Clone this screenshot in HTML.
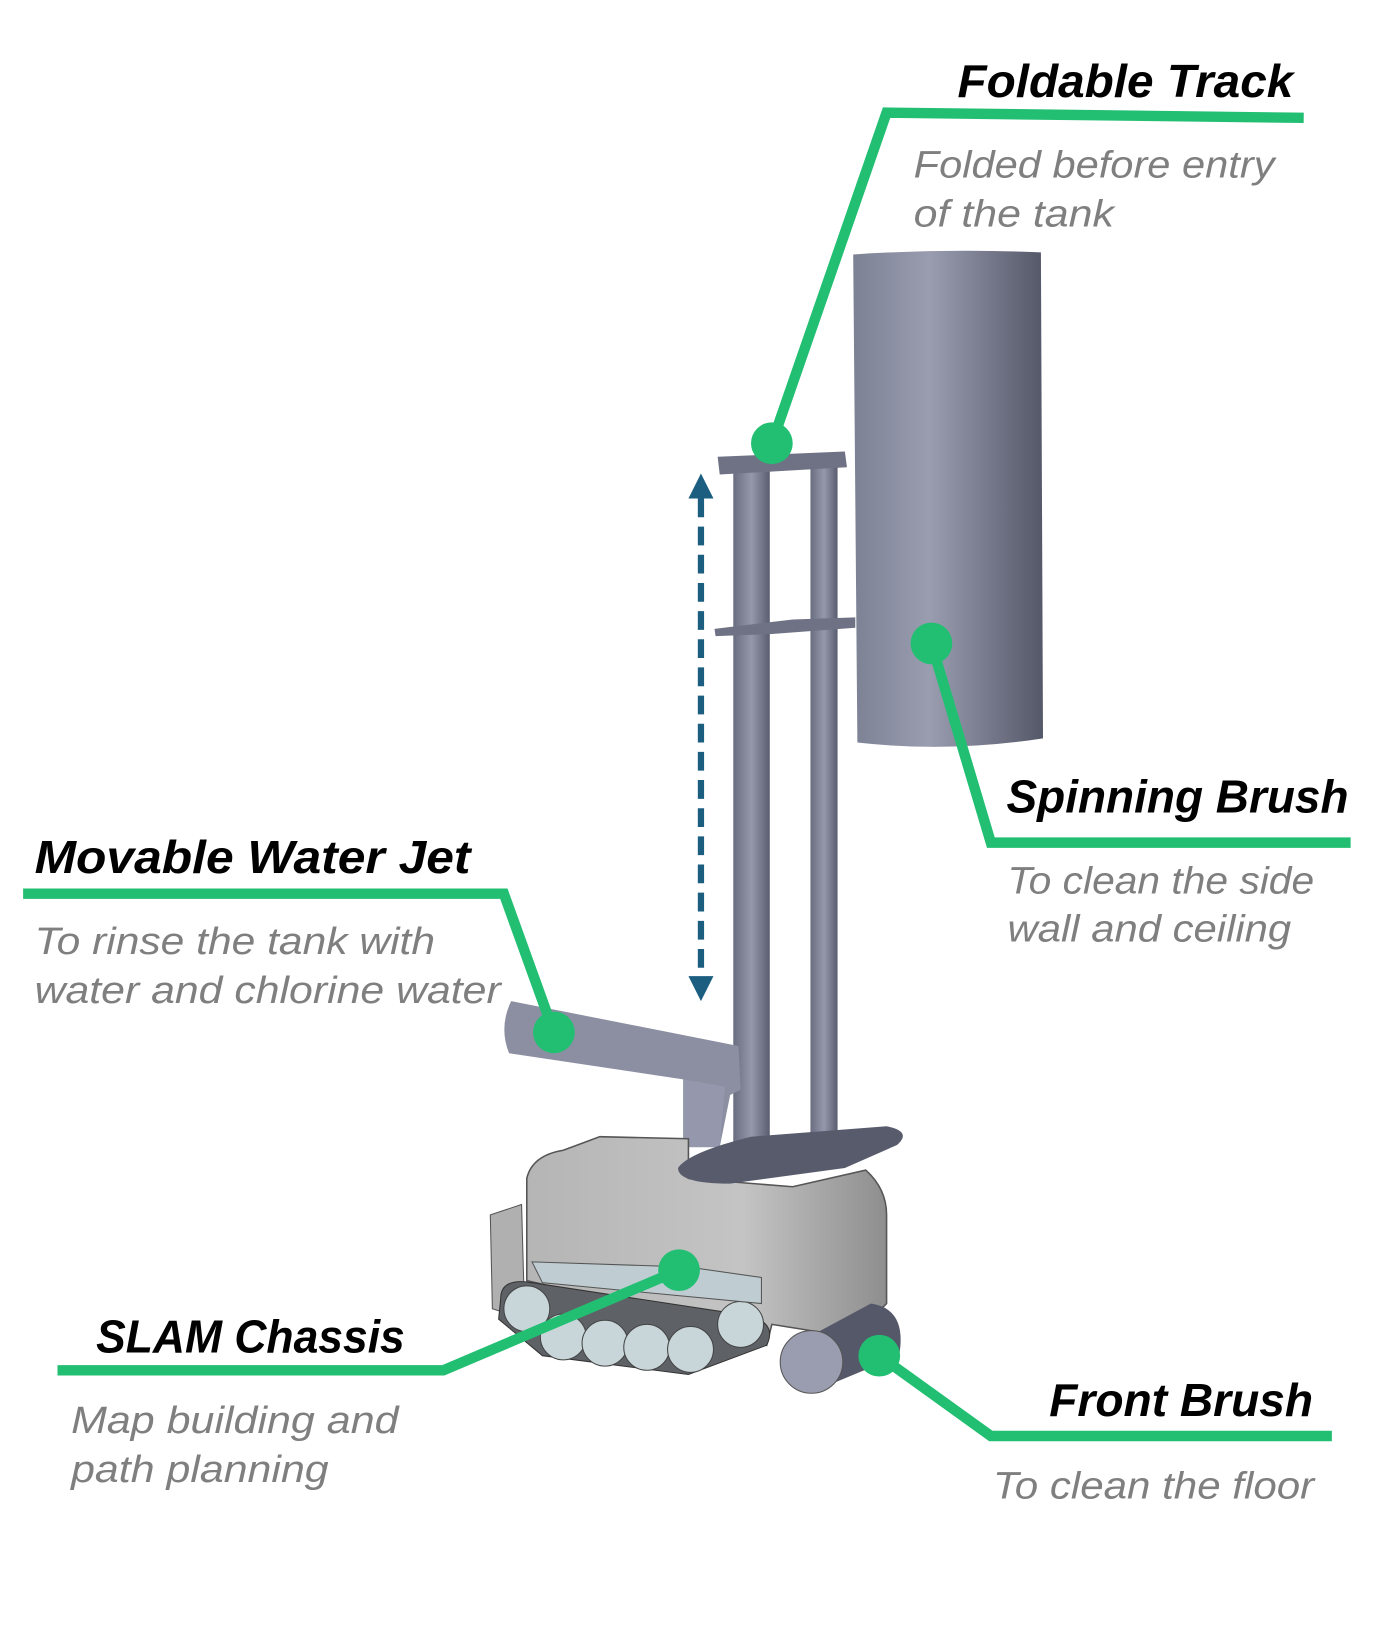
<!DOCTYPE html>
<html><head><meta charset="utf-8"><style>
html,body{margin:0;padding:0;background:#fff;}
svg{display:block;}
.t{font-family:"Liberation Sans",sans-serif;font-weight:bold;font-style:italic;font-size:44px;fill:#000;}
.s{font-family:"Liberation Sans",sans-serif;font-style:italic;font-size:36px;fill:#7f7f7f;}
.g{stroke:#22bf73;stroke-width:10;fill:none;stroke-linejoin:miter;}
</style></head><body>
<svg width="1380" height="1631" viewBox="0 0 1323 1564" xmlns="http://www.w3.org/2000/svg">
<defs>
<linearGradient id="cyl" x1="0" x2="1"><stop offset="0" stop-color="#7d8194"/><stop offset="0.4" stop-color="#9a9db0"/><stop offset="1" stop-color="#555869"/></linearGradient>
<linearGradient id="pole" x1="0" x2="1"><stop offset="0" stop-color="#6a6d80"/><stop offset="0.5" stop-color="#9598aa"/><stop offset="1" stop-color="#5a5d70"/></linearGradient>
<linearGradient id="body" x1="0" x2="1"><stop offset="0" stop-color="#b5b5b5"/><stop offset="0.6" stop-color="#c4c4c4"/><stop offset="1" stop-color="#8e8e8e"/></linearGradient>
</defs>
<path d="M818 244 Q908 238 998 242 L1000 708 Q910 722 822 712 Z" fill="url(#cyl)"/>
<rect x="703" y="448" width="35" height="672" fill="url(#pole)"/>
<rect x="777" y="448" width="26" height="640" fill="url(#pole)"/>
<path d="M688 438 L810 433 L812 448 L690 455 Z" fill="#6f7284"/>
<path d="M685 603 L760 594 L820 592 L820 602 L740 608 L686 610 Z" fill="#6f7284"/>
<path d="M490 960 L708 1003 L710 1045 L700 1050 L690 1100 L655 1100 L655 1035 L488 1010 Q478 985 490 960 Z" fill="#8c8fa2"/>
<path d="M655 1035 L695 1042 L690 1100 L655 1100 Z" fill="#9598ac"/>
<path d="M505 1130 Q510 1108 540 1103 L575 1090 L660 1092 L660 1130 L760 1138 L830 1122 Q850 1140 850 1165 L850 1250 L830 1270 L790 1278 L740 1270 L735 1290 L680 1268 L505 1228 Z" fill="url(#body)" stroke="#555" stroke-width="1.5"/>
<path d="M470 1165 L500 1155 L503 1265 L472 1255 Z" fill="#b0b0b0" stroke="#555"/>
<path d="M480 1245 Q480 1225 510 1230 L720 1262 Q745 1270 735 1290 L660 1318 L520 1300 L478 1265 Z" fill="#5e6266" stroke="#333"/>
<g fill="#c8d6da" stroke="#444">
<circle cx="505" cy="1255" r="22"/><circle cx="540" cy="1282" r="22"/><circle cx="580" cy="1288" r="22"/><circle cx="620" cy="1292" r="22"/><circle cx="662" cy="1294" r="22"/><circle cx="710" cy="1270" r="22"/>
</g>
<path d="M510 1210 L660 1215 L730 1225 L730 1250 L520 1230 Z" fill="#bfcdd2" stroke="#555"/>
<path d="M650 1120 Q660 1105 720 1090 L850 1080 Q875 1085 860 1098 L810 1120 L700 1135 Q650 1135 650 1120 Z" fill="#585b6c"/>
<path d="M770 1285 L835 1250 Q870 1255 862 1300 L790 1330 Z" fill="#555869"/>
<ellipse cx="778" cy="1306" rx="30" ry="30" fill="#9a9db0" stroke="#555"/>
<line x1="672" y1="478" x2="672" y2="936" stroke="#1b5e80" stroke-width="6" stroke-dasharray="18,9"/>
<polygon points="672,454 660,478 684,478" fill="#1b5e80"/>
<polygon points="672,960 660,936 684,936" fill="#1b5e80"/>
<polyline class="g" points="740,425 850,108 1250,113"/>
<circle cx="740" cy="425" r="20" fill="#22bf73"/>
<polyline class="g" points="893,617 950,808 1295,808"/>
<circle cx="893" cy="617" r="20" fill="#22bf73"/>
<polyline class="g" points="22,857 483,857 531,990"/>
<circle cx="531" cy="990" r="20" fill="#22bf73"/>
<polyline class="g" points="55,1314 425,1314 651,1218"/>
<circle cx="651" cy="1218" r="20" fill="#22bf73"/>
<polyline class="g" points="843,1300 950,1377 1277,1377"/>
<circle cx="843" cy="1300" r="20" fill="#22bf73"/>
<text class="t" x="918" y="93" textLength="322" lengthAdjust="spacingAndGlyphs">Foldable Track</text>
<text class="s" x="876" y="170" textLength="346" lengthAdjust="spacingAndGlyphs">Folded before entry</text>
<text class="s" x="876" y="217" textLength="192" lengthAdjust="spacingAndGlyphs">of the tank</text>
<text class="t" x="965" y="779" textLength="328" lengthAdjust="spacingAndGlyphs">Spinning Brush</text>
<text class="s" x="966" y="857" textLength="294" lengthAdjust="spacingAndGlyphs">To clean the side</text>
<text class="s" x="966" y="903" textLength="272" lengthAdjust="spacingAndGlyphs">wall and ceiling</text>
<text class="t" x="33" y="837" textLength="418" lengthAdjust="spacingAndGlyphs">Movable Water Jet</text>
<text class="s" x="33" y="915" textLength="384" lengthAdjust="spacingAndGlyphs">To rinse the tank with</text>
<text class="s" x="33" y="962" textLength="447" lengthAdjust="spacingAndGlyphs">water and chlorine water</text>
<text class="t" x="92" y="1297" textLength="296" lengthAdjust="spacingAndGlyphs">SLAM Chassis</text>
<text class="s" x="68" y="1374" textLength="314" lengthAdjust="spacingAndGlyphs">Map building and</text>
<text class="s" x="68" y="1421" textLength="247" lengthAdjust="spacingAndGlyphs">path planning</text>
<text class="t" x="1006" y="1358" textLength="253" lengthAdjust="spacingAndGlyphs">Front Brush</text>
<text class="s" x="952" y="1437" textLength="308" lengthAdjust="spacingAndGlyphs">To clean the floor</text>
</svg>
</body></html>
